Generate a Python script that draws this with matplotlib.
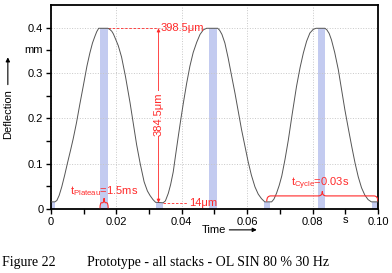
import matplotlib
matplotlib.use("Agg")
import matplotlib.pyplot as plt
from matplotlib.path import Path
from matplotlib.patches import PathPatch

time_s = [0.0000, 0.0012, 0.0018, 0.0025, 0.0033, 0.0042, 0.0050, 0.0060, 0.0068, 0.0078,
          0.0088, 0.0099, 0.0110, 0.0119, 0.0127, 0.0134, 0.0140, 0.0146, 0.0174, 0.0180,
          0.0186, 0.0191, 0.0198, 0.0206, 0.0216, 0.0228, 0.0242, 0.0252, 0.0262, 0.0273,
          0.0285, 0.0295, 0.0303, 0.0312, 0.0320, 0.0343, 0.0350, 0.0359, 0.0366, 0.0374,
          0.0381, 0.0389, 0.0397, 0.0405, 0.0415, 0.0425, 0.0435, 0.0446, 0.0456, 0.0466,
          0.0476, 0.0510, 0.0516, 0.0523, 0.0532, 0.0542, 0.0553, 0.0563, 0.0573, 0.0583,
          0.0593, 0.0603, 0.0613, 0.0624, 0.0634, 0.0644, 0.0654, 0.0675, 0.0682, 0.0690,
          0.0698, 0.0706, 0.0716, 0.0726, 0.0738, 0.0751, 0.0762, 0.0772, 0.0782, 0.0792,
          0.0802, 0.0811, 0.0838, 0.0844, 0.0851, 0.0858, 0.0868, 0.0879, 0.0889, 0.0899,
          0.0910, 0.0920, 0.0930, 0.0940, 0.0950, 0.0960, 0.0970, 0.0980, 0.1000]
deflection_mm = [0.016, 0.016, 0.019, 0.030, 0.049, 0.075, 0.100, 0.130, 0.155, 0.190,
                 0.230, 0.272, 0.315, 0.344, 0.366, 0.380, 0.391, 0.3985, 0.3985, 0.396,
                 0.392, 0.386, 0.374, 0.360, 0.335, 0.292, 0.234, 0.188, 0.142, 0.100,
                 0.060, 0.040, 0.030, 0.021, 0.015, 0.014, 0.018, 0.035, 0.054, 0.082,
                 0.118, 0.158, 0.197, 0.234, 0.277, 0.315, 0.345, 0.368, 0.385, 0.395,
                 0.3985, 0.3985, 0.394, 0.385, 0.366, 0.333, 0.292, 0.255, 0.215, 0.175,
                 0.140, 0.105, 0.075, 0.049, 0.033, 0.023, 0.016, 0.016, 0.022, 0.035,
                 0.052, 0.073, 0.110, 0.152, 0.210, 0.270, 0.312, 0.344, 0.370, 0.388,
                 0.396, 0.3985, 0.3985, 0.395, 0.387, 0.373, 0.345, 0.307, 0.263, 0.219,
                 0.176, 0.138, 0.102, 0.071, 0.047, 0.031, 0.021, 0.016, 0.016]

# plateau bands (start, end, height)
band_start = [0.0000, 0.0150, 0.0322, 0.0483, 0.0652, 0.0816, 0.0982]
band_end = [0.0013, 0.0175, 0.0342, 0.0507, 0.0670, 0.0838, 0.1000]
band_top = [0.016, 0.3985, 0.014, 0.3985, 0.016, 0.3985, 0.016]

x_ticks = [0, 0.02, 0.04, 0.06, 0.08, 0.10]
x_labels = ["0", "0.02", "0.04", "0.06", "0.08", "0.10"]
y_ticks = [0, 0.1, 0.2, 0.3, 0.4]
y_labels = ["0", "0.1", "0.2", "0.3", "0.4"]

RED = "#ff2a2a"
plt.rcParams['font.family'] = ['Liberation Sans', 'DejaVu Sans']

fig = plt.figure(figsize=(3.92, 2.73), dpi=100)
ax = fig.add_axes([0.130, 0.234, 0.834, 0.748])

for a, b, h in zip(band_start, band_end, band_top):
    ax.fill_between([a, b], 0, h, color="#c3cbf0", lw=0, zorder=1)

ax.plot(time_s, deflection_mm, color="#555555", lw=0.7, zorder=3)

ax.set_xlim(0, 0.1)
ax.set_ylim(0, 0.45)
ax.set_xticks(x_ticks)
ax.set_xticklabels(x_labels)
ax.set_yticks(y_ticks)
ax.set_yticklabels(y_labels)
ax.set_xticks([0.01, 0.03, 0.05, 0.07, 0.09], minor=True)
ax.set_yticks([0.05, 0.15, 0.25, 0.35], minor=True)
ax.tick_params(which="both", direction="out", length=3.5, width=1.0, labelsize=8, pad=2)
ax.grid(True, which="major", ls=":", color="#c8c8c8", lw=0.7)
for s in ax.spines.values():
    s.set_linewidth(1.3)

# unit labels in place of tick labels
ax.text(-0.0025, 0.35, "mm", ha="right", va="center", fontsize=8)
ax.text(0.09, -0.012, "s", ha="center", va="top", fontsize=8)

# axis labels with arrows
fig.text(0.020, 0.582, "Deflection", rotation=90, ha="center", va="center", fontsize=8)
ax.annotate("", xy=(0.020, 0.79), xytext=(0.020, 0.69), xycoords="figure fraction",
            arrowprops=dict(arrowstyle="-|>", color="black", lw=0.8, mutation_scale=6,
                            shrinkA=0, shrinkB=0))
fig.text(0.515, 0.158, "Time", ha="left", va="center", fontsize=8)
ax.annotate("", xy=(0.655, 0.158), xytext=(0.585, 0.158), xycoords="figure fraction",
            arrowprops=dict(arrowstyle="-|>", color="black", lw=0.8, mutation_scale=6,
                            shrinkA=0, shrinkB=0))

# annotations
ax.plot([0.0175, 0.0330], [0.3985, 0.3985], color=RED, lw=0.6, ls="--", dashes=(3, 2))
ax.plot([0.0342, 0.0420], [0.014, 0.014], color=RED, lw=0.6, ls="--", dashes=(3, 2))
ax.annotate("", xy=(0.0329, 0.3985), xytext=(0.0329, 0.014),
            arrowprops=dict(arrowstyle="<|-|>", color=RED, lw=0.6, mutation_scale=5,
                            shrinkA=0, shrinkB=0))
ax.text(0.0329, 0.21, "384.5μm", rotation=90, ha="center", va="center", color=RED,
        fontsize=8, bbox=dict(fc="white", ec="none", pad=0.5))
ax.text(0.0336, 0.3985, "398.5μm", ha="left", va="center", color=RED, fontsize=8)
ax.text(0.0423, 0.014, "14μm", ha="left", va="center", color=RED, fontsize=8)
ax.text(0.0057, 0.040, r"$\mathregular{t_{Plateau}}$=1.5ms", ha="left", va="center",
        color=RED, fontsize=8)
ax.text(0.0823, 0.055, r"$\mathregular{t_{Cycle}}$=0.03s", ha="center", va="center",
        color=RED, fontsize=8)


def brace(x0, x1, y0, h, r):
    xm = (x0 + x1) / 2
    ym = y0 + h * 0.55
    verts = [(x0, y0), (x0, ym), (x0 + r, ym), (xm - r, ym), (xm, ym), (xm, y0 + h),
             (xm, ym), (xm + r, ym), (x1 - r, ym), (x1, ym), (x1, y0)]
    codes = [Path.MOVETO, Path.CURVE3, Path.CURVE3, Path.LINETO, Path.CURVE3, Path.CURVE3,
             Path.CURVE3, Path.CURVE3, Path.LINETO, Path.CURVE3, Path.CURVE3]
    ax.add_patch(PathPatch(Path(verts, codes), fc="none", ec=RED, lw=0.8, zorder=4))


brace(0.0150, 0.0175, 0.002, 0.022, 0.0005)
brace(0.0660, 0.1000, 0.017, 0.022, 0.0012)

fig.text(0.005, 0.04, "Figure 22", ha="left", va="center", fontsize=10,
         family="Liberation Serif")
fig.text(0.222, 0.04, "Prototype - all stacks - OL SIN 80 % 30 Hz", ha="left", va="center",
         fontsize=10, family="Liberation Serif")

fig.savefig("out.png", dpi=100)
